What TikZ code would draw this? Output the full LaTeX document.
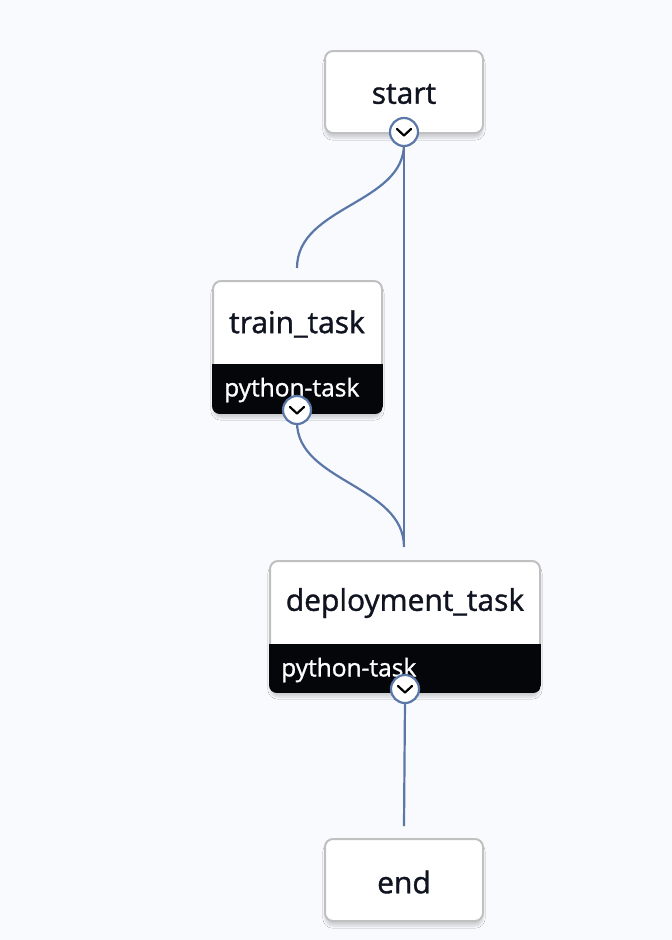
\documentclass[tikz,border=0pt]{standalone}
\usepackage{fontspec}
\setmainfont{Open Sans}
\newfontfamily\medfont{Open Sans}[RawFeature={embolden=1.2}]
\usetikzlibrary{calc,shadows.blur}
\definecolor{bg}{RGB}{248,250,254}
\definecolor{boxgray}{RGB}{192,192,192}
\definecolor{edgecol}{RGB}{91,119,168}
\definecolor{band}{RGB}{5,6,10}
\definecolor{ink}{RGB}{16,20,32}
\tikzset{
  box/.style={draw=boxgray, line width=2pt, fill=white, rounded corners=8pt, inner sep=0pt,
    blur shadow={shadow xshift=0pt, shadow yshift=-5pt, shadow blur steps=8, shadow opacity=16}},
  title/.style={font=\medfont\fontsize{30}{34}\selectfont, text=ink, inner sep=0pt},
  sub/.style={font=\medfont\fontsize{24.5}{28}\selectfont, text=white, inner sep=0pt, anchor=west},
  edge/.style={draw=edgecol, line width=2.2pt},
  handle/.style={circle, draw=edgecol, line width=2.2pt, fill=white, minimum size=28pt, inner sep=0pt},
  chev/.style={draw=black, line width=2.2pt, line cap=round, line join=round}
}
\begin{document}
\begin{tikzpicture}[x=1pt,y=-1pt]
\fill[bg] (0,0) rectangle (672,940);
\useasboundingbox (0,0) rectangle (672,940);
% boxes
\node[box, minimum width=158pt, minimum height=82pt] (start) at (404,92) {};
\node[box, minimum width=169pt, minimum height=132pt] (train) at (297.5,347) {};
\node[box, minimum width=270pt, minimum height=131pt] (deploy) at (405,626.5) {};
\node[box, minimum width=158pt, minimum height=82pt] (end) at (404,880) {};
% black bands
\begin{scope}
\clip[rounded corners=8pt] (train.south west) rectangle (train.north east);
\fill[band] ($(train.south west)+(0,-50)$) rectangle (train.south east);
\end{scope}
\begin{scope}
\clip[rounded corners=8pt] (deploy.south west) rectangle (deploy.north east);
\fill[band] ($(deploy.south west)+(0,-49)$) rectangle (deploy.south east);
\end{scope}
% texts
\node[title] (tstart) at (404,94) {start};
\node[title] (ttrain) at (297,324) {train\_task};
\node[title] (tdeploy) at (405,603) {deployment\_task};
\node[title] (tend) at (404,882) {end};
\node[sub] (strain) at (224,390) {python-task};
\node[sub] (sdeploy) at (281,670) {python-task};
% connector ends
\coordinate (tin) at (297,268);
\coordinate (din) at (404,547);
\coordinate (ein) at (404,826);
\coordinate (hs) at (404,132);
\coordinate (ht) at (297,410);
\coordinate (hd) at (405,689);
% edges
\draw[edge] ($(hs)+(0,12)$) -- (din);
\draw[edge] ($(hs)+(0,12)$) .. controls ($(hs)+(0,72)$) and ($(tin)+(0,-62)$) .. (tin);
\draw[edge] ($(ht)+(0,12)$) .. controls ($(ht)+(0,72)$) and ($(din)+(0,-62)$) .. (din);
\draw[edge] ($(hd)+(0,12)$) -- (ein);
% handles
\foreach \h in {hs,ht,hd}{
  \node[handle] (\h c) at (\h) {};
  \draw[chev] ($(\h)+(-7,-3)$) -- ($(\h)+(0,3.5)$) -- ($(\h)+(7,-3)$);
}
\end{tikzpicture}
\end{document}
